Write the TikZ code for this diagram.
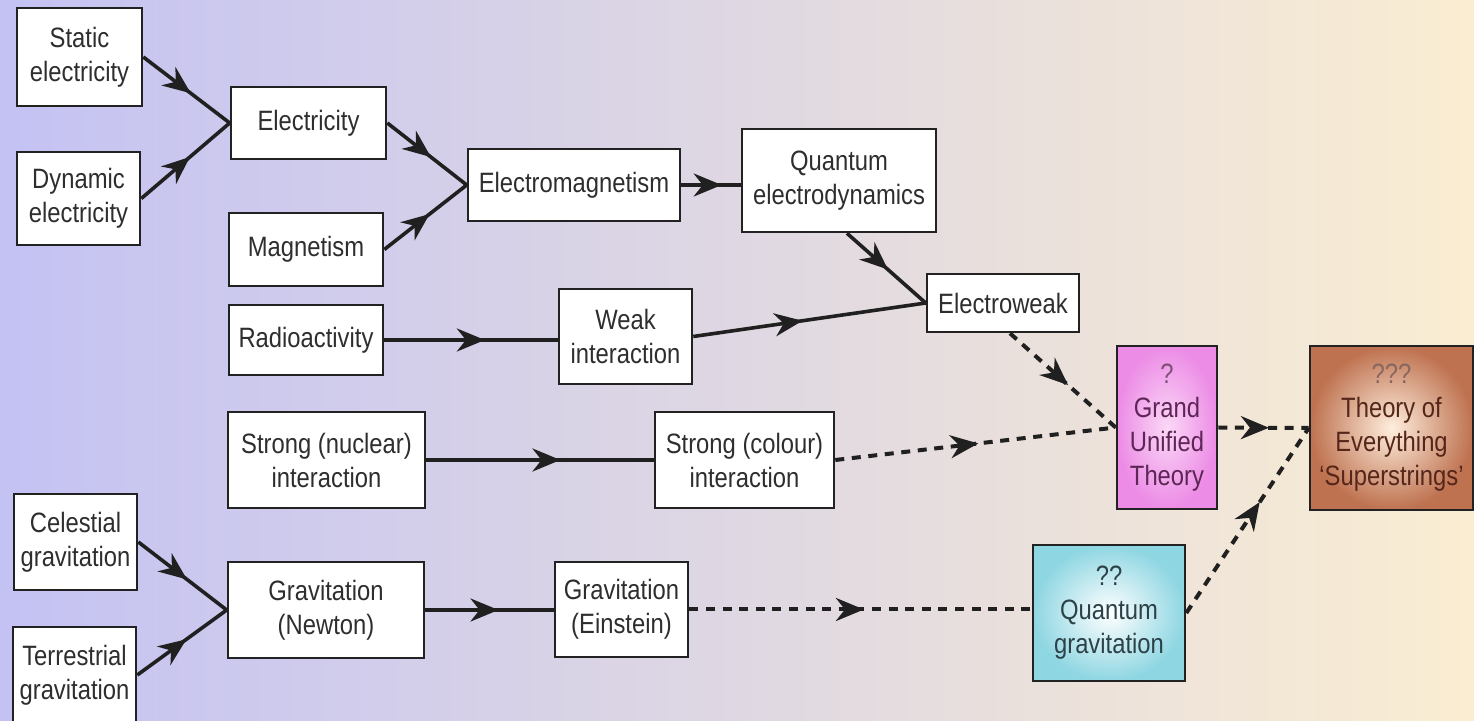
\documentclass[tikz,border=0pt]{standalone}
\usepackage{fontspec}
\setmainfont[FakeStretch=0.85]{Liberation Sans}
\usetikzlibrary{arrows.meta,decorations.markings}
\definecolor{bgL}{HTML}{C4C2F3}
\definecolor{bgM}{HTML}{DCD5E8}
\definecolor{bgR}{HTML}{FAEDD2}
\definecolor{boxline}{HTML}{222222}
\definecolor{lnc}{HTML}{202020}
\definecolor{txt}{HTML}{2E2E2E}
\definecolor{gutIn}{HTML}{FBD8F6}
\definecolor{gutOut}{HTML}{EC8CE6}
\definecolor{gutTxt}{HTML}{5E2656}
\definecolor{toeIn}{HTML}{FFEEDD}
\definecolor{toeOut}{HTML}{BE7250}
\definecolor{toeTxt}{HTML}{55261A}
\definecolor{qgIn}{HTML}{FFFFFF}
\definecolor{qgOut}{HTML}{8ED6E2}
\definecolor{qgTxt}{HTML}{2C4248}
\tikzset{
  box/.style={draw=boxline, line width=1.3pt, fill=white, inner sep=0pt, align=center,
    font=\fontsize{14}{17}\selectfont, text=txt},
  conn/.style={line width=1.8pt, draw=lnc,
    decoration={markings, mark=at position #1 with {\arrow{Stealth[length=14pt,width=11.5pt,inset=4.5pt]}}},
    postaction={decorate}},
  conn/.default=0.55,
  dconn/.style={conn=#1, dash pattern=on 4.5pt off 3.8pt, line width=2pt},
  dconn/.default=0.55,
}
\begin{document}
\begin{tikzpicture}[x=0.5pt,y=-0.5pt]
\useasboundingbox (0,0) rectangle (1474,721);
\shade[left color=bgL, middle color=bgM, right color=bgR] (0,0) rectangle (1474,721);

% nodes
\node[box, minimum width=62.5pt, minimum height=49pt] (static) at (79.5,57) {Static\\electricity};
\node[box, minimum width=61.5pt, minimum height=46.5pt] (dynamic) at (78.5,198.5) {Dynamic\\electricity};
\node[box, minimum width=77.5pt, minimum height=36pt] (elec) at (308.5,123) {Electricity};
\node[box, minimum width=77pt, minimum height=36.5pt] (magn) at (306,249.5) {Magnetism};
\node[box, minimum width=106pt, minimum height=36pt] (em) at (574,185) {Electromagnetism};
\node[box, minimum width=97pt, minimum height=51.5pt] (qed) at (839,180.5) {Quantum\\electrodynamics};
\node[box, minimum width=77pt, minimum height=35pt] (radio) at (306,340) {Radioactivity};
\node[box, minimum width=66.5pt, minimum height=47.5pt] (weak) at (625.5,336.5) {Weak\\interaction};
\node[box, minimum width=76pt, minimum height=29pt] (ew) at (1003,303) {Electroweak};
\node[box, minimum width=98.5pt, minimum height=48pt] (snuc) at (326.5,460) {Strong (nuclear)\\interaction};
\node[box, minimum width=89.5pt, minimum height=48pt] (scol) at (744.5,460) {Strong (colour)\\interaction};
\node[box, minimum width=61.5pt, minimum height=48pt] (cel) at (75.5,542) {Celestial\\gravitation};
\node[box, minimum width=61.5pt, minimum height=48pt] (ter) at (74.5,675) {Terrestrial\\gravitation};
\node[box, minimum width=98pt, minimum height=48pt] (newton) at (326,610) {Gravitation\\(Newton)};
\node[box, minimum width=66.5pt, minimum height=47.5pt] (einst) at (621.5,609.5) {Gravitation\\(Einstein)};
\node[box, minimum width=50pt, minimum height=81.5pt, shading=radial, inner color=gutIn, outer color=gutOut, text=gutTxt] (gut) at (1167,427.5) {{\color{gutTxt!80}?}\\Grand\\Unified\\Theory};
\node[box, minimum width=81.5pt, minimum height=82pt, shading=radial, inner color=toeIn, outer color=toeOut, text=toeTxt] (toe) at (1391.5,428) {{\color{toeTxt!70}???}\\Theory of\\Everything\\‘Superstrings’};
\node[box, minimum width=76pt, minimum height=68pt, shading=radial, inner color=qgIn, outer color=qgOut, text=qgTxt] (qg) at (1109,613) {??\\Quantum\\gravitation};

% solid connectors
\draw[conn] (static.east) -- (elec.west);
\draw[conn] (dynamic.east) -- (elec.west);
\draw[conn] (elec.east) -- (em.west);
\draw[conn] (magn.east) -- (em.west);
\draw[conn=0.68] (em.east) -- (em.east -| qed.west);
\draw[conn=0.52] ([xshift=4pt]qed.south) -- (ew.west);
\draw[conn=0.58] (radio.east) -- (radio.east -| weak.west);
\draw[conn=0.47] (weak.east) -- (ew.west);
\draw[conn=0.59] (snuc.east) -- (snuc.east -| scol.west);
\draw[conn] (cel.east) -- (newton.west);
\draw[conn] (ter.east) -- (newton.west);
\draw[conn=0.57] (newton.east) -- (newton.east -| einst.west);

% dashed connectors
\draw[dconn=0.51] (scol.east) -- (gut.west);
\draw[dconn=0.55] ([xshift=3.5pt]ew.south) -- (gut.west);
\draw[dconn=0.56] (gut.east) -- (toe.west);
\draw[dconn=0.6] (qg.east) -- (toe.west);
\draw[dconn=0.51] (einst.east) -- (einst.east -| qg.west);
\end{tikzpicture}
\end{document}
